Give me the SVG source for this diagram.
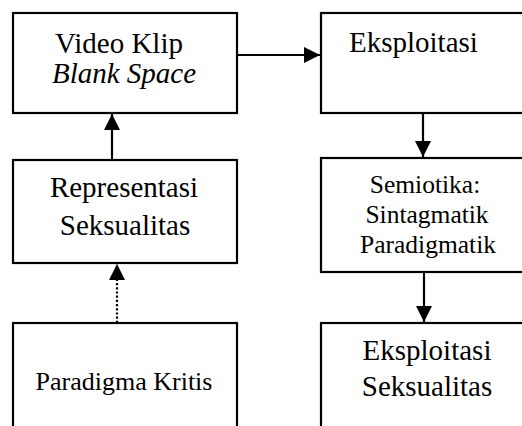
<svg xmlns="http://www.w3.org/2000/svg" width="522" height="426" viewBox="0 0 522 426">
  <style>
    .box { fill: #fff; stroke: #000; stroke-width: 2.2; }
    .lbl { font-family: "Liberation Serif", "Times New Roman", serif; font-size: 29px; fill: #000; text-anchor: middle; }
    .sm { font-size: 25.5px; }
    .md { font-size: 26px; }
    .start { text-anchor: start; }
    .it { font-style: italic; }
    .edge { stroke: #000; stroke-width: 2.2; fill: none; }
    .dot { stroke-dasharray: 2.2 2; }
  </style>
  <defs>
    <marker id="head" markerUnits="userSpaceOnUse" markerWidth="16" markerHeight="16" viewBox="0 0 16 16" refX="16" refY="8" orient="auto">
      <path d="M0,0 L16,8 L0,16 Z" fill="#000"/>
    </marker>
  </defs>

  <rect width="522" height="426" fill="#fff"/>

  <g id="video-klip">
    <rect class="box" x="13" y="13" width="224" height="100"/>
    <text class="lbl" x="119" y="53">Video Klip</text>
    <text class="lbl it" x="124" y="83">Blank Space</text>
  </g>

  <g id="representasi">
    <rect class="box" x="13" y="160" width="224" height="103"/>
    <text class="lbl" x="124" y="197">Representasi</text>
    <text class="lbl" x="125" y="235">Seksualitas</text>
  </g>

  <g id="paradigma">
    <rect class="box" x="13" y="323" width="224" height="120"/>
    <text class="lbl md" x="124" y="390">Paradigma Kritis</text>
  </g>

  <g id="eksploitasi">
    <rect class="box" x="321" y="13" width="220" height="100"/>
    <text class="lbl start" x="349" y="52">Eksploitasi</text>
  </g>

  <g id="semiotika">
    <rect class="box" x="321" y="158" width="220" height="114"/>
    <text class="lbl sm" x="425" y="193">Semiotika:</text>
    <text class="lbl sm" x="427" y="223">Sintagmatik</text>
    <text class="lbl sm" x="428" y="253">Paradigmatik</text>
  </g>

  <g id="eksploitasi-seksualitas">
    <rect class="box" x="321" y="323" width="220" height="120"/>
    <text class="lbl" x="427" y="360">Eksploitasi</text>
    <text class="lbl" x="427" y="396">Seksualitas</text>
  </g>

  <g id="connectors">
    <line class="edge" x1="112" y1="160" x2="112" y2="114" marker-end="url(#head)"/>
    <line class="edge dot" x1="117" y1="323" x2="117" y2="264" marker-end="url(#head)"/>
    <line class="edge" x1="237" y1="55" x2="320" y2="55" marker-end="url(#head)"/>
    <line class="edge" x1="423" y1="113" x2="423" y2="157" marker-end="url(#head)"/>
    <line class="edge" x1="424" y1="272" x2="424" y2="322" marker-end="url(#head)"/>
  </g>
</svg>
